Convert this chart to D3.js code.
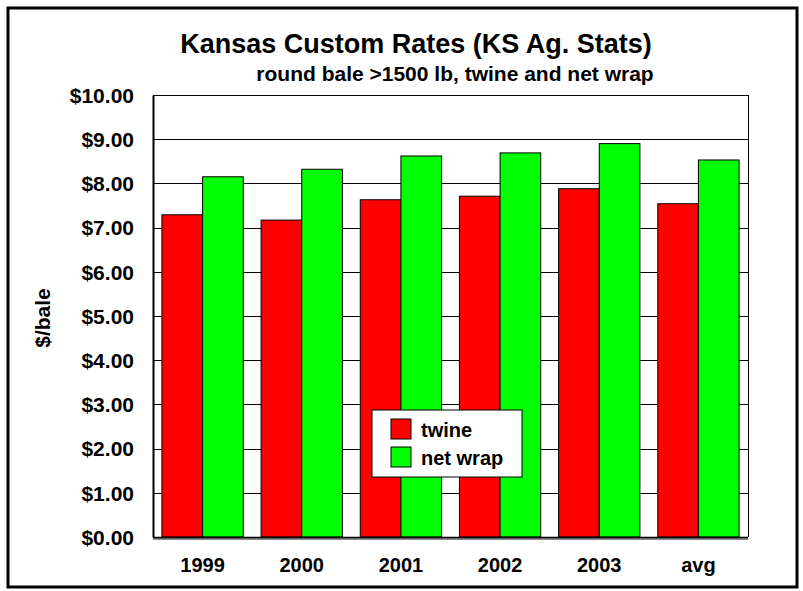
<!DOCTYPE html>
<html><head><meta charset="utf-8">
<script src="https://cdn.jsdelivr.net/npm/d3@7"></script>
<style>body{margin:0;background:#fff}svg{display:block}text{font-family:"Liberation Sans",Arial,sans-serif;font-weight:bold;fill:#000}</style>
</head><body>
<svg id="c" width="803" height="591"></svg>
<script>
const categories = ["1999","2000","2001","2002","2003","avg"];
const twine = [7.29, 7.17, 7.63, 7.71, 7.88, 7.54];
const netWrap = [8.15, 8.32, 8.62, 8.69, 8.90, 8.53];
const seriesNames = ["twine","net wrap"];
const seriesColors = ["#ff0000","#00ff00"];
const yTicks = [0,1,2,3,4,5,6,7,8,9,10];
const title = "Kansas Custom Rates (KS Ag. Stats)";
const subtitle = "round bale >1500 lb, twine and net wrap";
const yTitle = "$/bale";

const svg = d3.select("#c");
const m = {l:153, r:748, t:95, b:537};
svg.append("rect").attr("x",8).attr("y",8).attr("width",789).attr("height",579)
  .attr("fill","#fff").attr("stroke","#000").attr("stroke-width",3);

const x = d3.scaleBand().domain(categories).range([m.l,m.r]).paddingInner(0.18).paddingOuter(0.09);
const x1 = d3.scaleBand().domain(seriesNames).range([0,x.bandwidth()]);
const y = d3.scaleLinear().domain([0,10]).range([m.b,m.t]);

// floor shadow
svg.append("line").attr("x1",m.l).attr("x2",m.r).attr("y1",m.b+2).attr("y2",m.b+2).attr("stroke","#888").attr("stroke-width",2);

// gridlines
svg.append("g").selectAll("line").data(yTicks.filter(d=>d>0)).join("line")
  .attr("x1",m.l).attr("x2",m.r).attr("y1",d=>Math.round(y(d))+0.5).attr("y2",d=>Math.round(y(d))+0.5)
  .attr("stroke","#000").attr("stroke-width",1);
svg.append("line").attr("x1",m.r+0.5).attr("x2",m.r+0.5).attr("y1",m.t).attr("y2",m.b).attr("stroke","#000");

// bars
const data = categories.map((c,i)=>({c, vals:[twine[i], netWrap[i]]}));
const g = svg.append("g").selectAll("g").data(data).join("g").attr("transform",d=>`translate(${x(d.c)},0)`);
g.selectAll("rect").data(d=>d.vals.map((v,j)=>({v,s:seriesNames[j],j}))).join("rect")
  .attr("x",d=>x1(d.s)).attr("width",x1.bandwidth())
  .attr("y",d=>y(d.v)).attr("height",d=>y(0)-y(d.v))
  .attr("fill",d=>seriesColors[d.j]).attr("stroke","#000").attr("stroke-width",1);

// axes
const ya = d3.axisLeft(y).tickValues(yTicks).tickFormat(d=>"$"+d.toFixed(2)).tickSize(0).tickPadding(19);
const yg = svg.append("g").attr("transform",`translate(${m.l},0)`).call(ya);
yg.select(".domain").attr("stroke","#000").attr("stroke-width",2);
yg.selectAll("text").style("font-size","21px").attr("dy","0.35em");
svg.append("g").selectAll("line").data(yTicks).join("line")
  .attr("x1",m.l).attr("x2",m.l+5).attr("y1",d=>Math.round(y(d))+0.5).attr("y2",d=>Math.round(y(d))+0.5).attr("stroke","#000");
svg.append("line").attr("x1",m.l).attr("x2",m.r).attr("y1",m.b+0.5).attr("y2",m.b+0.5).attr("stroke","#000").attr("stroke-width",1.5);

const xa = d3.axisBottom(x).tickSize(0).tickPadding(21);
const xg = svg.append("g").attr("transform",`translate(0,${m.b})`).call(xa);
xg.select(".domain").remove();
xg.selectAll("text").style("font-size","20px");

// titles
svg.append("text").attr("x",416).attr("y",53).attr("text-anchor","middle").style("font-size","27px").text(title);
svg.append("text").attr("x",455).attr("y",81).attr("text-anchor","middle").style("font-size","21px").text(subtitle);
svg.append("text").attr("transform","translate(50,318) rotate(-90)").attr("text-anchor","middle").style("font-size","21px").text(yTitle);

// legend
const lg = svg.append("g").attr("transform","translate(372,410)");
lg.append("rect").attr("width",150).attr("height",67).attr("fill","#fff").attr("stroke","#000");
seriesNames.forEach((s,i)=>{
  lg.append("rect").attr("x",19).attr("y",9+i*28).attr("width",20).attr("height",20).attr("fill",seriesColors[i]).attr("stroke","#000");
  lg.append("text").attr("x",49).attr("y",27+i*28).style("font-size","20px").text(s);
});
</script>
</body></html>
